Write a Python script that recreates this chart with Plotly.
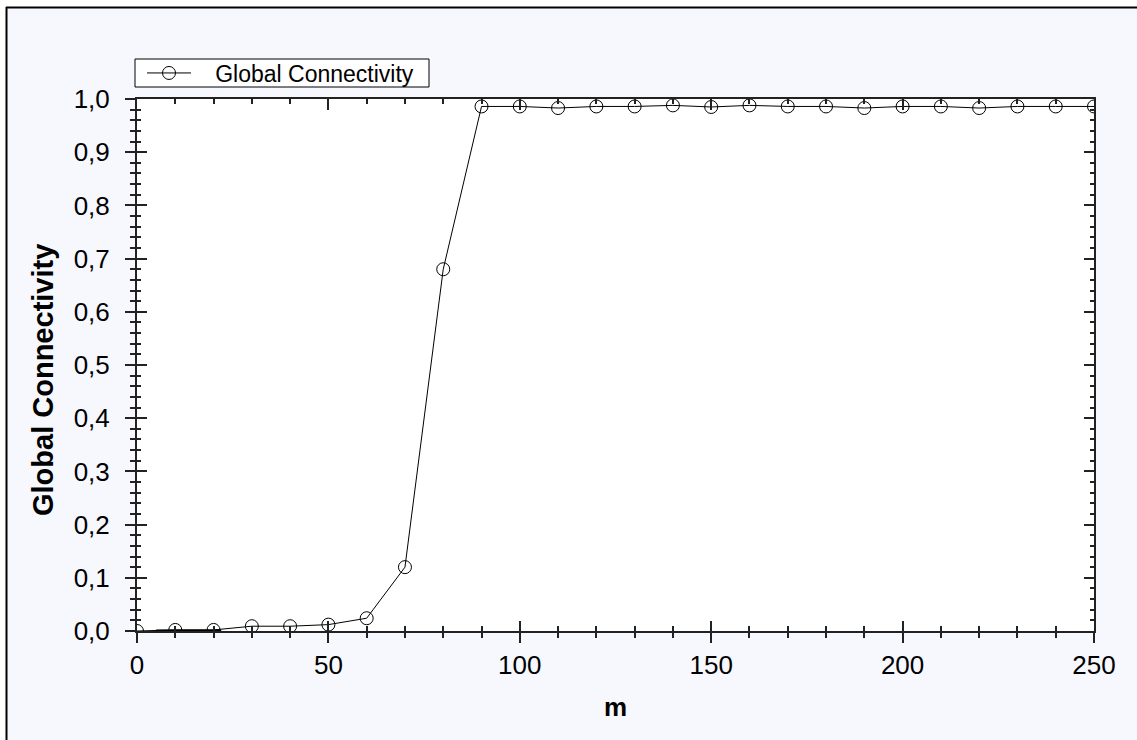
import plotly.graph_objects as go

# Global connectivity as a function of m
m_values = [0, 10, 20, 30, 40, 50, 60, 70, 80, 90, 100, 110, 120, 130, 140,
            150, 160, 170, 180, 190, 200, 210, 220, 230, 240, 250]
connectivity = [0.0, 0.002, 0.002, 0.009, 0.009, 0.012, 0.024, 0.12, 0.68, 0.986,
                0.986, 0.983, 0.986, 0.986, 0.988, 0.985, 0.988, 0.986, 0.986,
                0.983, 0.986, 0.986, 0.983, 0.986, 0.986, 0.986]

# short heavy baseline segment near the origin
base_m = [5, 22]
base_y = [0.0, 0.0]

series_name = "Global Connectivity"
x_title = "m"
y_title = "Global Connectivity"

W, H = 1137, 740
L, R, T, B = 137, 43, 99, 109
PW, PH = W - L - R, H - T - B

FONT = "Liberation Sans, Arial, sans-serif"
AX = "#222222"
PAPER = "#f7f8fe"


def px_x(p):
    return (p - L) / PW


def px_y(p):
    return (H - B - p) / PH


fig = go.Figure()

fig.add_trace(go.Scatter(
    x=base_m, y=base_y, mode="lines", showlegend=False, hoverinfo="skip",
    line=dict(color="black", width=3),
))
fig.add_trace(go.Scatter(
    x=m_values, y=connectivity, name="\u00a0\u00a0\u00a0" + series_name,
    mode="lines+markers",
    line=dict(color="black", width=1),
    marker=dict(symbol="circle-open", size=13, color="black",
                line=dict(color="black", width=1)),
    cliponaxis=True,
))
# empty traces so the overlay axes (crossing / mirrored ticks) are drawn
fig.add_trace(go.Scatter(x=[], y=[], xaxis="x2", yaxis="y2", showlegend=False))
fig.add_trace(go.Scatter(x=[], y=[], xaxis="x3", yaxis="y3", showlegend=False))

xr = [0, 250]
yr = [0, 1]
tickfont = dict(family=FONT, size=26, color="black")

common_x = dict(range=xr, dtick=50, tick0=0, showgrid=False, zeroline=False,
                tickcolor=AX, tickwidth=1.5)
common_y = dict(range=yr, dtick=0.1, tick0=0, showgrid=False, zeroline=False,
                tickcolor=AX, tickwidth=1.5)

fig.update_layout(
    width=W, height=H,
    margin=dict(l=L, r=R, t=T, b=B, pad=0),
    paper_bgcolor=PAPER,
    plot_bgcolor="white",
    separators=", ",
    font=dict(family=FONT, color="black"),
    showlegend=True,
    legend=dict(
        x=px_x(142), y=px_y(73), xanchor="left", yanchor="middle",
        bgcolor="rgba(0,0,0,0)", borderwidth=0,
        font=dict(family=FONT, size=23, color="black"),
        itemwidth=44,
    ),
    xaxis=dict(
        **common_x, anchor="y", side="bottom",
        showline=True, linecolor=AX, linewidth=2,
        ticks="outside", ticklen=10,
        minor=dict(dtick=10, ticks="outside", ticklen=5, tickcolor=AX, tickwidth=1.5),
        tickfont=tickfont, ticklabelstandoff=0,
        title=dict(text="<b>%s</b>" % x_title, font=dict(family=FONT, size=26), standoff=19),
    ),
    xaxis2=dict(
        **common_x, anchor="y", overlaying="x", side="bottom",
        showline=False, ticks="inside", ticklen=10, showticklabels=False,
        minor=dict(dtick=10, ticks="inside", ticklen=5, tickcolor=AX, tickwidth=1.5),
    ),
    xaxis3=dict(
        **common_x, anchor="y", overlaying="x", side="top",
        showline=True, linecolor=AX, linewidth=2,
        ticks="inside", ticklen=11, showticklabels=False,
        minor=dict(dtick=10, ticks="inside", ticklen=5, tickcolor=AX, tickwidth=1.5),
    ),
    yaxis=dict(
        **common_y, anchor="x", side="left",
        showline=True, linecolor=AX, linewidth=2,
        ticks="outside", ticklen=10, tickformat=".1f",
        minor=dict(dtick=0.02, ticks="outside", ticklen=5, tickcolor=AX, tickwidth=1.5),
        tickfont=tickfont, ticklabelstandoff=10,
    ),
    yaxis2=dict(
        **common_y, anchor="x", overlaying="y", side="left",
        showline=False, ticks="inside", ticklen=10, showticklabels=False,
        minor=dict(dtick=0.02, ticks="inside", ticklen=4, tickcolor=AX, tickwidth=1.5),
    ),
    yaxis3=dict(
        **common_y, anchor="x", overlaying="y", side="right",
        showline=True, linecolor=AX, linewidth=2,
        ticks="inside", ticklen=10, showticklabels=False,
        minor=dict(dtick=0.02, ticks="inside", ticklen=4, tickcolor=AX, tickwidth=1.5),
    ),
    annotations=[
        dict(text="<b>%s</b>" % y_title, xref="paper", yref="paper",
             x=px_x(43), y=px_y(380), xanchor="center", yanchor="middle",
             textangle=-90, showarrow=False,
             font=dict(family=FONT, size=29, color="black")),
    ],
    shapes=[
        # legend frame
        dict(type="rect", xref="paper", yref="paper", layer="above",
             x0=px_x(135), x1=px_x(429), y0=px_y(87), y1=px_y(59),
             fillcolor="white", line=dict(color="black", width=1)),
        # white margin strips and the dark frame edges
        dict(type="rect", xref="paper", yref="paper", layer="above",
             x0=px_x(-5), x1=px_x(6), y0=px_y(760), y1=px_y(-5),
             fillcolor="white", line=dict(width=0)),
        dict(type="rect", xref="paper", yref="paper", layer="above",
             x0=px_x(-5), x1=px_x(1150), y0=px_y(7), y1=px_y(-5),
             fillcolor="white", line=dict(width=0)),
        dict(type="line", xref="paper", yref="paper", layer="above",
             x0=px_x(6.5), x1=px_x(6.5), y0=px_y(7), y1=px_y(760),
             line=dict(color="black", width=2)),
        dict(type="line", xref="paper", yref="paper", layer="above",
             x0=px_x(6), x1=px_x(1150), y0=px_y(7.5), y1=px_y(7.5),
             line=dict(color="black", width=2)),
    ],
)

fig.write_html("out.html")
